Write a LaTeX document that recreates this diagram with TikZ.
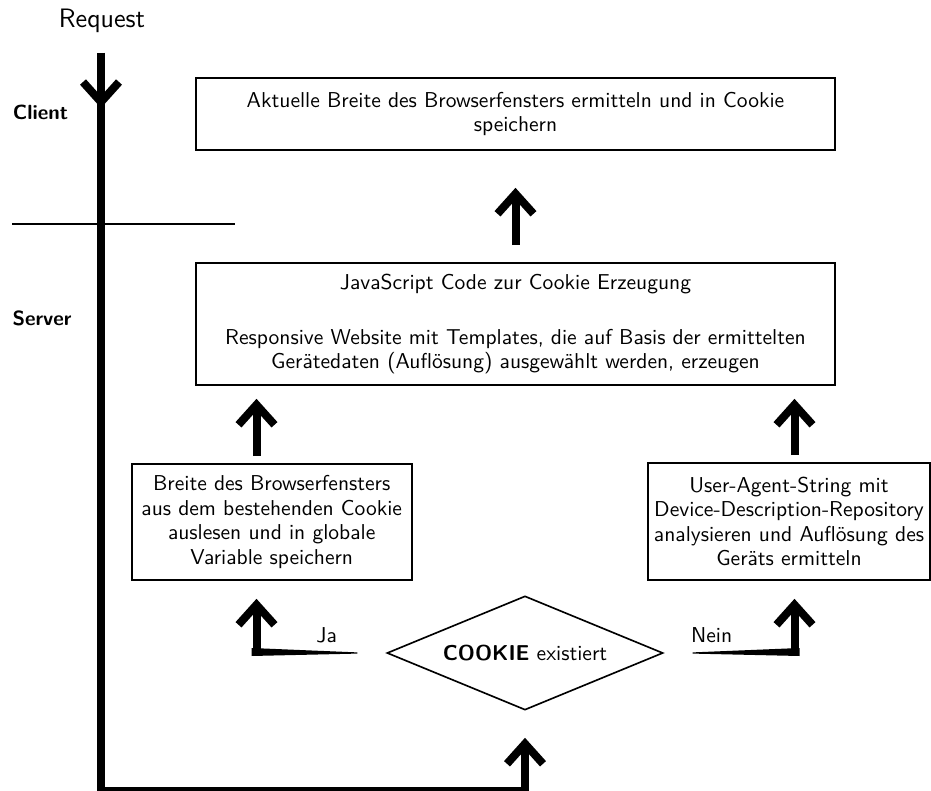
\documentclass[tikz,border=0pt]{standalone}
\usetikzlibrary{arrows.meta,shapes.geometric,calc}
\newcommand{\pxu}{0.4878pt}
\begin{document}
\begin{tikzpicture}[
  x=\pxu, y=-\pxu,
  every node/.style={font=\sffamily\fontsize{10.5}{12}\selectfont},
  box/.style={draw, thick, align=center, inner sep=0pt},
  decision/.style={draw, thick, diamond, inner sep=0pt,
    minimum width=276*\pxu, minimum height=114*\pxu},
  lane/.style={font=\sffamily\bfseries\fontsize{10}{12}\selectfont},
  flow/.style={line width=8*\pxu, line join=miter},
  barb/.style={flow, -{Straight Barb[sharp, length=20*\pxu, width=36*\pxu]}},
  taper/.style={fill=black},
]
\useasboundingbox (0,0) rectangle (931,791);

% lanes
\node[font=\sffamily\fontsize{13}{15}\selectfont] (req) at (102,21) {Request};
\node[lane] (client) at (40.5,112) {Client};
\node[lane] (server) at (42,318) {Server};
\coordinate (sepL) at (12,224);
\coordinate (sepR) at (235,224);
\draw[thick] (sepL) -- (sepR);

% process boxes
\node[box, minimum width=639*\pxu, minimum height=72*\pxu] (top) at (515.5,114)
  {Aktuelle Breite des Browserfensters ermitteln und in Cookie\\speichern};
\node[box, minimum width=639*\pxu, minimum height=122*\pxu] (mid) at (515.5,324)
  {JavaScript Code zur Cookie Erzeugung\\[15pt]Responsive Website mit Templates, die auf Basis der ermittelten\\Gerätedaten (Auflösung) ausgewählt werden, erzeugen};
\node[box, minimum width=280*\pxu, minimum height=116*\pxu] (left) at (271.7,522)
  {Breite des Browserfensters\\aus dem bestehenden Cookie\\auslesen und in globale\\Variable speichern};
\node[box, minimum width=282*\pxu, minimum height=117*\pxu] (right) at (789,521.5)
  {User-Agent-String mit\\Device-Description-Repository\\analysieren und Auflösung des\\Geräts ermitteln};
\node[decision] (dia) at (525,653) {\makebox[0pt]{\textbf{COOKIE} existiert}};

% trunk from the request down and round to the decision
\coordinate (trunkTop) at (101,53);
\coordinate (clientTip) at (101,108);
\coordinate (trunkBot) at (101,791);
\draw[barb, shorten >=27*\pxu] (trunkTop) -- (trunkBot) -- (dia.south |- trunkBot) -- (dia.south);
\draw[barb] (trunkTop) -- (clientTip);

% yes branch
\coordinate (jaC) at (256.5,652);
\coordinate (jaE) at ($(dia.west)+(-28.7,0)$);
\fill[taper] ($(jaE)+(0,-0.6)$) -- ($(jaC)+(-5,-4)$) -- ($(jaC)+(-5,4)$) -- ($(jaE)+(0,0.6)$) -- cycle;
\draw[barb, shorten >=18*\pxu] ($(jaC)+(0,4)$) -- (jaC |- left.south);
\node (ja) at (326.7,635) {Ja};

% no branch
\coordinate (neinC) at (794.5,652);
\coordinate (neinE) at ($(dia.east)+(28.7,0)$);
\fill[taper] ($(neinE)+(0,-0.6)$) -- ($(neinC)+(5,-4)$) -- ($(neinC)+(5,4)$) -- ($(neinE)+(0,0.6)$) -- cycle;
\draw[barb, shorten >=18*\pxu] ($(neinC)+(0,4)$) -- (neinC |- right.south);
\node (nein) at (711.7,635) {Nein};

% upward flow between boxes
\draw[barb, shorten <=7*\pxu, shorten >=13*\pxu] (jaC |- left.north) -- (jaC |- mid.south);
\draw[barb, shorten <=7*\pxu, shorten >=13*\pxu] (neinC |- right.north) -- (neinC |- mid.south);
\draw[barb, shorten <=17*\pxu, shorten >=37*\pxu] (mid.north) -- (top.south);
\end{tikzpicture}
\end{document}
